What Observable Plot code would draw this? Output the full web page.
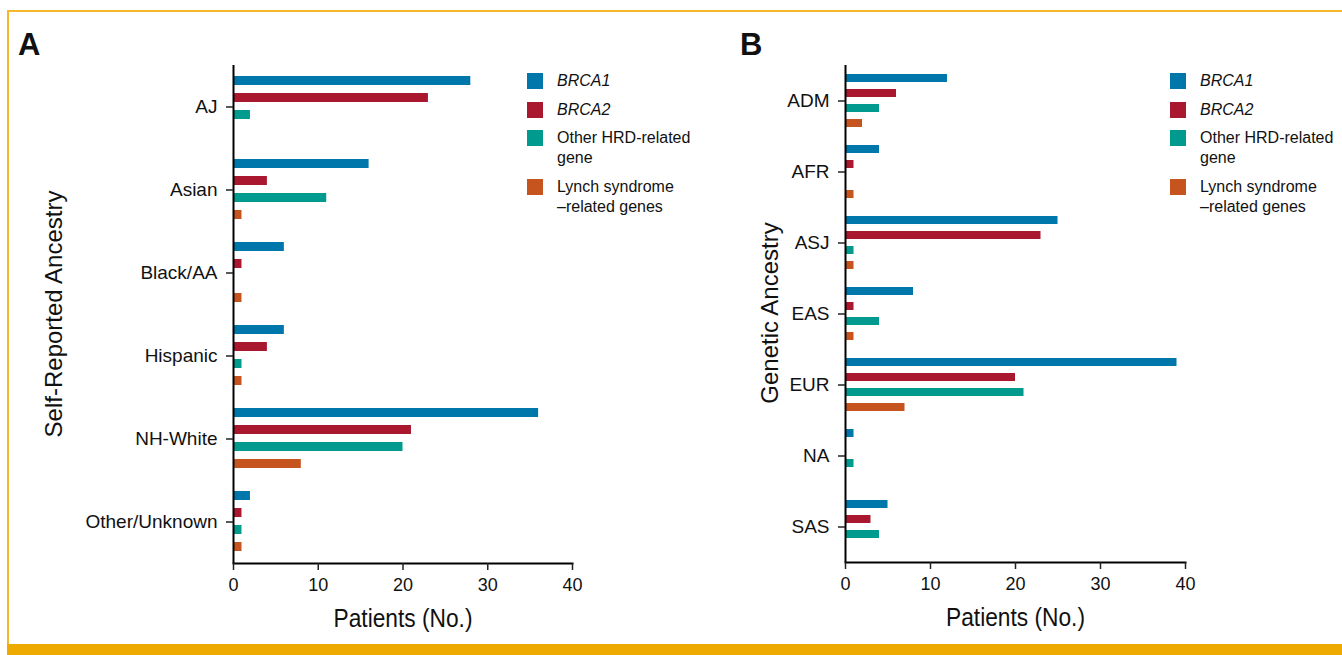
<!DOCTYPE html>
<html><head><meta charset="utf-8">
<script src="https://cdn.jsdelivr.net/npm/d3@7"></script>
<script src="https://cdn.jsdelivr.net/npm/@observablehq/plot@0.6"></script>
<style>
html,body{margin:0;padding:0;background:#fff;}
#root{position:relative;width:1342px;height:655px;overflow:hidden;font-family:"Liberation Sans",Arial,sans-serif;color:#111;}
.frameTop{position:absolute;left:7px;top:10px;width:1335px;height:2px;background:#F5B82A;}
.frameLeft{position:absolute;left:7px;top:10px;width:2px;height:640px;background:#F5B82A;}
.frameBottom{position:absolute;left:7px;top:644px;width:1335px;height:11px;background:#EEAA00;}
.panel{position:absolute;top:0;}
.letter{position:absolute;font-weight:bold;font-size:31px;line-height:1;}
.ytitle{position:absolute;font-size:24px;line-height:1;white-space:nowrap;transform:translate(-50%,-50%) rotate(-90deg);}
.legend{position:absolute;font-size:16px;}
.row{display:flex;margin-bottom:8.5px;}
.sw{width:16px;height:16px;margin-top:2px;margin-right:14px;flex:none;}
.lbl div{line-height:20px;white-space:nowrap;}
svg text{font-family:"Liberation Sans",Arial,sans-serif;}
g[aria-label="x-axis label"] text{font-size:25px;}
</style>
</head><body>
<div id="root">
  <div class="frameTop"></div>
  <div class="frameLeft"></div>
  <div class="frameBottom"></div>
</div>
<script>
// ---- data ----
const genes = ["BRCA1", "BRCA2", "Other HRD-related gene", "Lynch syndrome–related genes"];
const legendLines = [["BRCA1"], ["BRCA2"], ["Other HRD-related", "gene"], ["Lynch syndrome", "–related genes"]];
const geneColors = ["#0077AA", "#A9182F", "#009A8F", "#C5541E"];
const xTicks = [0, 10, 20, 30, 40];

const selfAncestry = ["AJ", "Asian", "Black/AA", "Hispanic", "NH-White", "Other/Unknown"];
const selfBRCA1 = [28, 16, 6, 6, 36, 2];
const selfBRCA2 = [23, 4, 1, 4, 21, 1];
const selfOtherHRD = [2, 11, 0, 1, 20, 1];
const selfLynch = [0, 1, 1, 1, 8, 1];

const geneticAncestry = ["ADM", "AFR", "ASJ", "EAS", "EUR", "NA", "SAS"];
const genBRCA1 = [12, 4, 25, 8, 39, 1, 5];
const genBRCA2 = [6, 1, 23, 1, 20, 0, 3];
const genOtherHRD = [4, 0, 1, 4, 21, 1, 4];
const genLynch = [2, 1, 1, 1, 7, 0, 0];

function tidy(cats, series) {
  const out = [];
  cats.forEach((c, i) => series.forEach((s, j) => out.push({ancestry: c, gene: genes[j], count: s[i]})));
  return out;
}
const dataA = tidy(selfAncestry, [selfBRCA1, selfBRCA2, selfOtherHRD, selfLynch]);
const dataB = tidy(geneticAncestry, [genBRCA1, genBRCA2, genOtherHRD, genLynch]);

function panel(data, cats, opts) {
  const svg = Plot.plot({
    width: opts.width, height: 655,
    marginLeft: 233, marginRight: opts.marginRight, marginTop: 65, marginBottom: opts.marginBottom,
    style: {fontSize: "18px", fontFamily: "Liberation Sans, Arial, sans-serif", color: "#111", background: "transparent", overflow: "visible"},
    x: {domain: [0, 40]},
    y: {domain: genes, axis: null, paddingInner: opts.pi, paddingOuter: opts.po},
    fy: {domain: cats, padding: 0},
    color: {domain: genes, range: geneColors},
    marks: [
      Plot.barX(data, {x: "count", y: "gene", fy: "ancestry", fill: "gene"}),
      Plot.ruleX([0], {stroke: "#000", strokeWidth: 2}),
      Plot.frame({anchor: "bottom", facetAnchor: "bottom", stroke: "#000", strokeWidth: 2}),
      Plot.axisX({ticks: xTicks, tickSize: 7, tickPadding: 8, fontSize: 18, stroke: "#222", strokeWidth: 1.5,
        label: "Patients (No.)", labelAnchor: "center", labelOffset: 63, labelArrow: "none"}),
      Plot.axisFy({anchor: "left", tickSize: 7, tickPadding: 9, fontSize: 19, stroke: "#222", strokeWidth: 1.5, label: null})
    ]
  });
  // condensed look for the axis title
  svg.querySelectorAll('g[aria-label="x-axis label"] text').forEach(t => {
    t.setAttribute("textLength", 139);
    t.setAttribute("lengthAdjust", "spacingAndGlyphs");
  });
  return svg;
}

const root = document.getElementById("root");
function place(el, left) { el.classList.add("panel"); el.style.left = left + "px"; root.appendChild(el); }
place(panel(dataA, selfAncestry, {width: 620, marginRight: 48, marginBottom: 92, pi: 0.444, po: 0.53}), 0);
place(panel(dataB, geneticAncestry, {width: 730, marginRight: 157, marginBottom: 93, pi: 0.477, po: 0.57}), 612);

function addText(cls, text, left, top) {
  const d = document.createElement("div");
  d.className = cls; d.textContent = text;
  d.style.left = left + "px"; d.style.top = top + "px";
  root.appendChild(d);
  return d;
}
addText("letter", "A", 18, 29);
addText("letter", "B", 740, 29);
addText("ytitle", "Self-Reported Ancestry", 54, 314);
addText("ytitle", "Genetic Ancestry", 770, 313);

function legend(left, top) {
  const L = document.createElement("div");
  L.className = "legend"; L.style.left = left + "px"; L.style.top = top + "px";
  genes.forEach((g, i) => {
    const row = document.createElement("div"); row.className = "row";
    const sw = document.createElement("div"); sw.className = "sw"; sw.style.background = geneColors[i];
    const lbl = document.createElement("div"); lbl.className = "lbl";
    if (i < 2) lbl.style.fontStyle = "italic";
    legendLines[i].forEach(t => { const ln = document.createElement("div"); ln.textContent = t; lbl.appendChild(ln); });
    row.appendChild(sw); row.appendChild(lbl); L.appendChild(row);
  });
  root.appendChild(L);
}
legend(527, 71);
legend(1170, 71);
</script>
</body></html>
